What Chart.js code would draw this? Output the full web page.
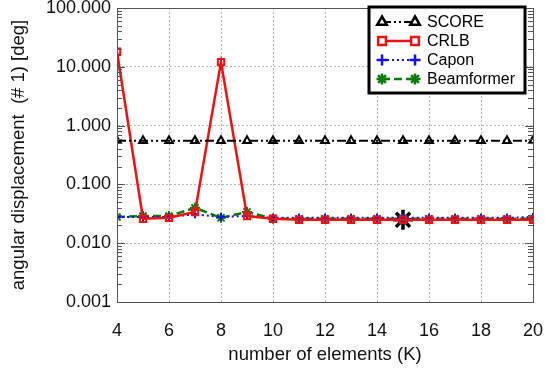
<!DOCTYPE html>
<html>
<head>
<meta charset="utf-8">
<script src="https://cdn.jsdelivr.net/npm/chart.js@4/dist/chart.umd.min.js"></script>
<style>
  html, body { margin: 0; padding: 0; background: #fff; }
  #wrap { width: 545px; height: 370px; position: relative; }
</style>
</head>
<body>
<div id="wrap"><canvas id="c"></canvas></div>
<script>
// ── Data ──
const elements   = [4, 5, 6, 7, 8, 9, 10, 11, 12, 13, 14, 15, 16, 17, 18, 19, 20];
const scoreVals  = [0.55, 0.55, 0.55, 0.55, 0.55, 0.55, 0.55, 0.55, 0.55, 0.55, 0.55, 0.55, 0.55, 0.55, 0.55, 0.55, 0.55];
const crlbVals   = [18, 0.026, 0.027, 0.034, 12, 0.029, 0.026, 0.025, 0.025, 0.025, 0.025, 0.025, 0.025, 0.025, 0.025, 0.025, 0.025];
const caponVals  = [0.028, 0.028, 0.028, 0.031, 0.028, 0.029, 0.027, 0.027, 0.027, 0.027, 0.027, 0.027, 0.027, 0.027, 0.027, 0.027, 0.028];
const beamVals   = [0.028, 0.029, 0.029, 0.040, 0.027, 0.034, 0.026, 0.026, 0.026, 0.026, 0.026, 0.026, 0.026, 0.026, 0.026, 0.026, 0.026];
const markK      = [15];
const markVals   = [0.025];
const yTickVals  = [0.001, 0.01, 0.1, 1, 10, 100];
const yTickText  = ['0.001', '0.010', '0.100', '1.000', '10.000', '100.000'];
const xTickVals  = [4, 6, 8, 10, 12, 14, 16, 18, 20];

const FONT = 'Liberation Sans, Arial, Helvetica, sans-serif';
const pts = vals => elements.map((k, i) => ({ x: k, y: vals[i] }));

const series = [
    { label: 'SCORE',      data: pts(scoreVals), color: '#000000', style: 'triangle', r: 4.5, dash: [9, 3, 2, 3, 2, 3], lw: 2 },
    { label: 'CRLB',       data: pts(crlbVals),  color: '#ee1111', style: 'rect',     r: 4.5, dash: [],               lw: 2.5 },
    { label: 'Capon',      data: pts(caponVals), color: '#1010ee', style: 'cross',    r: 4,   dash: [2, 3],            lw: 2 },
    { label: 'Beamformer', data: pts(beamVals),  color: '#0a7a0a', style: 'star',     r: 5,   dash: [8, 4],            lw: 2.5 },
];
const openStyle = s => s === 'rect' || s === 'triangle';

const datasets = series.map(s => ({
    label: s.label,
    data: s.data,
    borderColor: s.color,
    backgroundColor: '#ffffff',
    borderWidth: s.lw,
    borderDash: s.dash,
    pointStyle: s.style,
    pointRadius: s.r,
    pointBorderColor: s.color,
    pointBackgroundColor: openStyle(s.style) ? 'rgba(255,255,255,0)' : s.color,
    pointBorderWidth: 2,
    tension: 0,
}));
datasets.push({
    label: 'marker',
    data: markK.map((k, i) => ({ x: k, y: markVals[i] })),
    showLine: false,
    pointStyle: 'star',
    pointRadius: 10,
    pointBorderWidth: 3.5,
    pointBorderColor: '#000',
    pointBackgroundColor: '#000',
});

// ── Box frame + inward minor ticks like the original axes ──
const axisTicks = {
    id: 'axisTicks',
    afterDatasetsDraw(chart) {
        const { ctx, chartArea: a, scales } = chart;
        ctx.save();
        ctx.strokeStyle = '#555';
        ctx.lineWidth = 1;
        ctx.strokeRect(Math.round(a.left) + 0.5, Math.round(a.top) + 0.5,
                       Math.round(a.right - a.left), Math.round(a.bottom - a.top));
        const ys = scales.y;
        for (let e = -3; e < 2; e++) {
            for (let m = 1; m <= 9; m++) {
                const v = m * Math.pow(10, e);
                const py = Math.round(ys.getPixelForValue(v)) + 0.5;
                const len = m === 1 ? 8 : 5;
                ctx.beginPath();
                ctx.moveTo(a.left, py); ctx.lineTo(a.left + len, py);
                ctx.moveTo(a.right, py); ctx.lineTo(a.right - len, py);
                ctx.stroke();
            }
        }
        ctx.restore();
    }
};

// ── Boxed legend in the upper right corner ──
const boxLegend = {
    id: 'boxLegend',
    afterDraw(chart) {
        const { ctx } = chart;
        const x0 = 369, y0 = 7, w = 156, h = 86;
        ctx.save();
        ctx.fillStyle = '#fff';
        ctx.fillRect(x0, y0, w, h);
        ctx.lineWidth = 3;
        ctx.strokeStyle = '#000';
        ctx.strokeRect(x0, y0, w, h);
        const rows = [22, 41, 60, 79];
        series.forEach((s, i) => {
            const y = rows[i];
            ctx.strokeStyle = s.color;
            ctx.lineWidth = s.lw;
            ctx.setLineDash(s.dash);
            ctx.beginPath();
            ctx.moveTo(382, y); ctx.lineTo(415, y);
            ctx.stroke();
            ctx.setLineDash([]);
            ctx.lineWidth = 2.5;
            ctx.fillStyle = openStyle(s.style) ? '#fff' : s.color;
            [382, 415].forEach(px => {
                Chart.helpers.drawPoint(ctx, {
                    pointStyle: s.style, radius: 5.5, rotation: 0, borderWidth: 2.5
                }, px, y);
            });
            ctx.fillStyle = '#000';
            ctx.font = '16px ' + FONT;
            ctx.textBaseline = 'middle';
            ctx.fillText(s.label, 427, y + 1);
        });
        ctx.restore();
    }
};

new Chart(document.getElementById('c'), {
    type: 'line',
    data: { datasets },
    plugins: [axisTicks, boxLegend],
    options: {
        responsive: true, maintainAspectRatio: false, animation: false,
        layout: { autoPadding: false, padding: { left: 4, right: 0, top: 0, bottom: 0 } },
        plugins: { legend: { display: false }, tooltip: { enabled: false } },
        scales: {
            x: {
                type: 'linear', min: 4, max: 20,
                afterBuildTicks: sc => { sc.ticks = xTickVals.map(v => ({ value: v })); },
                ticks: { color: '#111', font: { size: 18, family: FONT }, padding: 18, maxRotation: 0 },
                grid: { color: '#b8b8b8', tickLength: 0, lineWidth: 1 },
                border: { display: true, color: '#444', width: 1, dash: [2, 2] },
                title: { display: true, text: 'number of elements (K)', color: '#111',
                         font: { size: 18.5, family: FONT }, padding: { top: 0 } },
                afterFit: sc => { sc.height = 68; sc.paddingRight = 12; sc.paddingLeft = 0; },
            },
            y: {
                type: 'logarithmic', min: 0.001, max: 100,
                afterBuildTicks: sc => { sc.ticks = yTickVals.map(v => ({ value: v })); },
                ticks: {
                    color: '#111', font: { size: 18, family: FONT }, padding: 6,
                    callback: v => yTickText[yTickVals.indexOf(v)] ?? '',
                },
                grid: { color: '#b8b8b8', tickLength: 0, lineWidth: 1 },
                border: { display: true, color: '#444', width: 1, dash: [2, 2] },
                title: { display: true, text: 'angular displacement  (# 1) [deg]', color: '#111',
                         font: { size: 18.5, family: FONT }, padding: { bottom: 2 } },
                afterFit: sc => { sc.width = 113; sc.paddingTop = 8; sc.paddingBottom = 0; },
            },
        },
    },
});
</script>
</body>
</html>
